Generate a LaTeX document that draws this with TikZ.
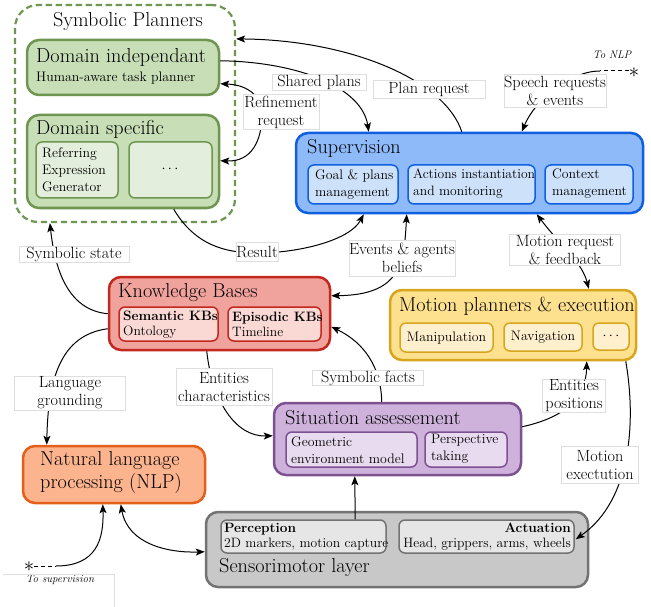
\documentclass[tikz,border=0pt]{standalone}
\usetikzlibrary{fit,calc,arrows.meta}
\definecolor{gfill}{RGB}{199,222,182}
\definecolor{gdraw}{RGB}{110,150,80}
\definecolor{ginner}{RGB}{228,238,220}
\definecolor{bfill}{RGB}{143,186,250}
\definecolor{bdraw}{RGB}{15,95,225}
\definecolor{binner}{RGB}{205,225,251}
\definecolor{rfill}{RGB}{240,162,156}
\definecolor{rdraw}{RGB}{195,40,30}
\definecolor{rinner}{RGB}{250,216,212}
\definecolor{yfill}{RGB}{253,225,142}
\definecolor{ydraw}{RGB}{215,165,30}
\definecolor{yinner}{RGB}{255,240,205}
\definecolor{pfill}{RGB}{206,178,219}
\definecolor{pdraw}{RGB}{125,80,145}
\definecolor{pinner}{RGB}{233,219,239}
\definecolor{ofill}{RGB}{252,180,142}
\definecolor{odraw}{RGB}{228,95,25}
\definecolor{kfill}{RGB}{200,200,200}
\definecolor{kdraw}{RGB}{115,115,115}
\definecolor{kinner}{RGB}{230,230,230}
\newcommand{\ftitle}{\fontsize{20.2}{23}\selectfont}
\newcommand{\fsub}{\fontsize{13.8}{17}\selectfont}
\newcommand{\fsubt}{\fontsize{13.6}{15}\selectfont}
\newcommand{\flbl}{\fontsize{16.2}{18}\selectfont}
\newcommand{\fsmall}{\fontsize{11}{13}\selectfont}
\newcommand{\fstar}{\fontsize{22}{22}\selectfont}
\begin{document}
\begin{tikzpicture}[x=1pt,y=-1pt,
  mainbox/.style={inner sep=0pt, rounded corners=12pt, line width=2.5pt},
  subbox/.style={inner sep=0pt, rounded corners=6pt, line width=1.5pt},
  ttl/.style={anchor=west, inner sep=0pt, font=\ftitle, align=left},
  stx/.style={anchor=west, inner sep=0pt, font=\fsub, align=left},
  lbl/.style={fill=white, draw=black!13, line width=0.6pt, inner sep=0pt, align=center, font=\flbl},
  tip/.tip={Stealth[length=9pt,width=7pt,inset=2pt]},
  arr/.style={line width=1pt, -tip},
  darr/.style={line width=1pt, tip-tip}
]
\useasboundingbox (0,0) rectangle (651,607);

% ---------- Symbolic planners ----------
\node[fit={(15,5) (235,222)}, inner sep=0pt, rounded corners=23pt, draw=gdraw, line width=2.2pt, dash pattern=on 6.3pt off 3.7pt] (sp) {};
\node[font=\ftitle, inner sep=0pt] (spt) at (128,21) {Symbolic Planners};
\node[fit={(27,40) (219,95)}, mainbox, fill=gfill, draw=gdraw] (di) {};
\node[ttl] (dit) at (36,57) {Domain independant};
\node[stx] (dis) at (36,78) {Human-aware task planner};
\node[fit={(27,115) (219,208)}, mainbox, fill=gfill, draw=gdraw] (ds) {};
\node[ttl] (dst) at (36,129) {Domain specific};
\node[fit={(36,142) (118,198)}, subbox, fill=ginner, draw=gdraw] (reg) {};
\node[stx] (regt) at (42,170) {Referring\\Expression\\Generator};
\node[fit={(129,142) (212,198)}, subbox, fill=ginner, draw=gdraw] (dots1) {};
\node[font=\fsub, inner sep=0pt] (dots1t) at (170,169) {$\cdots$};

% ---------- Supervision ----------
\node[fit={(296,133) (643,213)}, mainbox, fill=bfill, draw=bdraw] (sup) {};
\node[ttl] (supt) at (307,148) {Supervision};
\node[fit={(308,165) (398,204)}, subbox, fill=binner, draw=bdraw] (gp) {};
\node[stx] (gpt) at (315,184) {Goal \& plans\\management};
\node[fit={(408,165) (535,204)}, subbox, fill=binner, draw=bdraw] (ai) {};
\node[stx, font=\fsubt] (ait) at (413,184) {Actions instantiation\\[2pt]and monitoring};
\node[fit={(545,165) (633,204)}, subbox, fill=binner, draw=bdraw] (cm) {};
\node[stx] (cmt) at (552,184) {Context\\management};

% ---------- Knowledge bases ----------
\node[fit={(109,277) (330,350)}, mainbox, fill=rfill, draw=rdraw] (kb) {};
\node[ttl] (kbt) at (118,293) {Knowledge Bases};
\node[fit={(119,307) (218,341)}, subbox, fill=rinner, draw=rdraw] (sem) {};
\node[stx, font=\fsubt] (semt) at (123,324.5) {\textbf{Semantic KBs}\\Ontology};
\node[fit={(228,307) (321,341)}, subbox, fill=rinner, draw=rdraw] (epi) {};
\node[stx, font=\fsubt] (epit) at (232,324.5) {\textbf{Episodic KBs}\\Timeline};

% ---------- Motion planners ----------
\node[fit={(390,290) (636,360)}, mainbox, fill=yfill, draw=ydraw] (mp) {};
\node[ttl] (mpt) at (399,306) {Motion planners \& execution};
\node[fit={(400,323) (493,352)}, subbox, fill=yinner, draw=ydraw] (man) {};
\node[font=\fsub, inner sep=0pt] (mant) at (446.5,338) {Manipulation};
\node[fit={(504,323) (582,351)}, subbox, fill=yinner, draw=ydraw] (nav) {};
\node[font=\fsub, inner sep=0pt] (navt) at (543,337) {Navigation};
\node[fit={(593,323) (629,350)}, subbox, fill=yinner, draw=ydraw] (dots2) {};
\node[font=\fsub, inner sep=0pt] (dots2t) at (611,336) {$\cdots$};

% ---------- Situation assessment ----------
\node[fit={(274,403) (521,475)}, mainbox, fill=pfill, draw=pdraw] (sa) {};
\node[ttl] (sat) at (285,418) {Situation assessement};
\node[fit={(286,432) (417,467)}, subbox, fill=pinner, draw=pdraw] (geo) {};
\node[stx] (geot) at (291,450) {Geometric\\environment model};
\node[fit={(425,432) (507,467)}, subbox, fill=pinner, draw=pdraw] (per) {};
\node[stx] (pert) at (431,448.5) {Perspective\\taking};

% ---------- NLP ----------
\node[fit={(23,446) (205,503)}, mainbox, fill=ofill, draw=odraw] (nlp) {};
\node[ttl] (nlpt) at (40,472.5) {Natural language\\processing (NLP)};

% ---------- Sensorimotor ----------
\node[fit={(206,512) (588,587)}, mainbox, fill=kfill, draw=kdraw] (sm) {};
\node[ttl] (smt) at (219,567) {Sensorimotor layer};
\node[fit={(221,520) (386,553)}, subbox, fill=kinner, draw=kdraw] (perc) {};
\node[stx, font=\fsubt] (perct) at (224,536.5) {\textbf{Perception}\\2D markers, motion capture};
\node[fit={(399,520) (574,553)}, subbox, fill=kinner, draw=kdraw] (act) {};
\node[stx, font=\fsubt, anchor=east, align=right] (actt) at (571,536.5) {\textbf{Actuation}\\Head, grippers, arms, wheels};

% ---------- free ends ----------
\node[inner sep=0pt, font=\fstar] (star1) at (634,73) {$\ast$};
\node[inner sep=0pt, font=\fsmall\itshape] (tonlp) at (612,55) {To NLP};
\coordinate (c1) at (600,71);
\node[inner sep=0pt, font=\fstar] (star2) at (29,567) {$\ast$};
\node[inner sep=0pt, font=\fsmall\itshape] (tosup) at (60,580) {To supervision};
\coordinate (c2) at (56,566);
\draw[black!13, line width=0.6pt] (3,574) -- (114,574) -- (114,607);

% ---------- connectors ----------
\draw[arr] ($(sup.north west)+(167,0)$) .. controls (445,80) and (350,40) .. ($(sp.north east)+(0,35)$);
\draw[arr] ($(di.north east)+(0,22)$) .. controls (300,62) and (362,88) .. ($(sup.north west)+(74,0)$);
\draw[darr] ($(di.north east)+(0,45)$) .. controls (250,85) and (262,98) .. (262,114) .. controls (262,140) and (252,162) .. ($(ds.north east)+(0,47)$);
\draw[line width=1pt, dash pattern=on 4pt off 3pt] (star1.west |- c1) -- (c1);
\draw[arr] (c1) .. controls (570,71) and (535,100) .. ($(sup.north west)+(227,0)$);
\draw[arr] ($(ds.south west)+(148,0)$) .. controls (195,245) and (225,253) .. (257,253) .. controls (300,253) and (350,240) .. ($(sup.south west)+(69,0)$);
\draw[darr] ($(sup.south west)+(112,0)$) .. controls (404,262) and (402,295) .. ($(kb.north east)+(0,20)$);
\draw[darr] ($(sup.south west)+(242,0)$) .. controls (560,245) and (582,262) .. ($(mp.north west)+(200,0)$);
\draw[arr] ($(kb.north west)+(0,38)$) .. controls (68,310) and (55,270) .. ($(sp.south west)+(36,0)$);
\draw[arr] ($(kb.north west)+(0,53)$) .. controls (60,335) and (48,380) .. ($(nlp.north west)+(25,0)$);
\draw[arr] ($(kb.south west)+(99,0)$) .. controls (212,400) and (235,437) .. ($(sa.north west)+(0,34)$);
\draw[arr] ($(sa.north west)+(109,0)$) .. controls (381,368) and (365,343) .. ($(kb.north east)+(0,51)$);
\draw[arr] ($(sa.north east)+(0,25)$) .. controls (562,418) and (586,400) .. ($(mp.south west)+(198,0)$);
\draw[arr] ($(mp.south west)+(237,0)$) .. controls (636,420) and (632,500) .. ($(act.north east)+(1,20)$);
\draw[arr] ($(perc.north west)+(135,0)$) -- ($(sa.south west)+(82,0)$);
\draw[darr] ($(nlp.south west)+(99,0)$) .. controls (128,545) and (170,553) .. ($(sm.north west)+(0,41)$);
\draw[line width=1pt, dash pattern=on 4pt off 3pt] (star2.east |- c2) -- (c2);
\draw[arr] (c2) .. controls (96,566) and (104,540) .. ($(nlp.south west)+(81,0)$);

% ---------- labels ----------
\node[lbl, minimum width=94pt, minimum height=16pt] (lsp) at (319,82) {Shared plans};
\node[lbl, minimum width=112pt, minimum height=18pt] (lpr) at (429,89) {Plan request};
\node[lbl, minimum width=76pt, minimum height=35pt] (lrr) at (281,112) {Refinement\\request};
\node[lbl, minimum width=98pt, minimum height=33pt] (lsr) at (555,91) {Speech requests\\\& events};
\node[lbl, minimum width=110pt, minimum height=16pt] (lss) at (74,254) {Symbolic state};
\node[lbl, minimum width=42pt, minimum height=19pt] (lres) at (257,252) {Result};
\node[lbl, minimum width=95pt, minimum height=36pt] (lev) at (402,258) {Events \& agents\\beliefs};
\node[lbl, minimum width=111pt, minimum height=31pt] (lmr) at (565,250) {Motion request\\\& feedback};
\node[lbl, minimum width=111pt, minimum height=34pt] (llg) at (70,393) {Language\\grounding};
\node[lbl, minimum width=96pt, minimum height=37pt] (lec) at (224,387) {Entities\\characteristics};
\node[lbl, minimum width=111pt, minimum height=15pt] (lsf) at (368,378) {Symbolic facts};
\node[lbl, minimum width=63pt, minimum height=33pt] (lep) at (574,396) {Entities\\positions};
\node[lbl, minimum width=77pt, minimum height=37pt] (lme) at (600,465) {Motion\\exectution};
\end{tikzpicture}
\end{document}
